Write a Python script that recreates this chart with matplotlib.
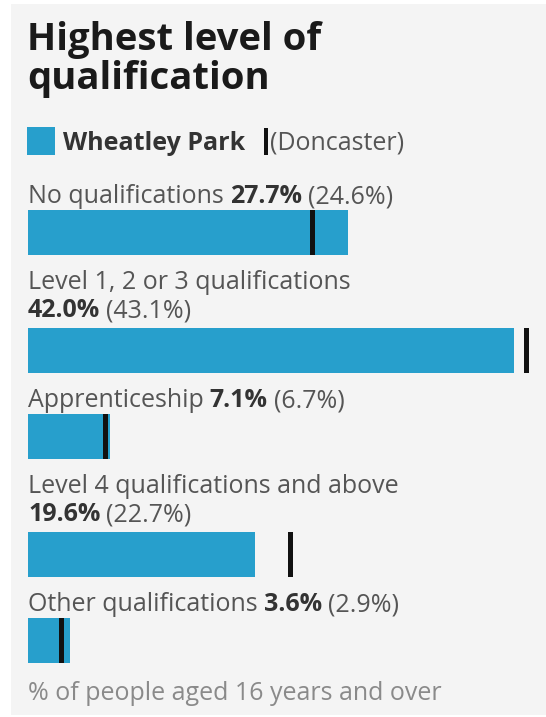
import matplotlib.pyplot as plt
from matplotlib.patches import Rectangle

plt.rcParams['font.family'] = ['Open Sans', 'DejaVu Sans']

# data
categories = ["No qualifications", "Level 1, 2 or 3 qualifications", "Apprenticeship",
              "Level 4 qualifications and above", "Other qualifications"]
area_values = [27.7, 42.0, 7.1, 19.6, 3.6]        # Wheatley Park
compare_values = [24.6, 43.1, 6.7, 22.7, 2.9]     # Doncaster
wrap_label = [False, True, False, True, False]    # value text on its own line

title_lines = ["Highest level of", "qualification"]
area_name = "Wheatley Park"
compare_name = "(Doncaster)"
footer = "% of people aged 16 years and over"

BLUE = "#279fcc"
BG = "#f4f4f4"
W, H = 546, 717
X0 = 28            # px where 0% sits
PX_PER_PCT = 11.57
FS = 18

fig = plt.figure(figsize=(W / 100, H / 100), dpi=100)
fig.patch.set_facecolor("white")
ax = fig.add_axes([0, 0, 1, 1])
ax.set_xlim(-X0 / PX_PER_PCT, (W - X0) / PX_PER_PCT)
ax.set_ylim(H, 0)
ax.axis("off")

# panel background
ax.add_patch(Rectangle((11 / W, 1 - 715 / H), (W - 11) / W, (715 - 4) / H,
                       transform=ax.transAxes, facecolor=BG, edgecolor="none", zorder=-5))

renderer = fig.canvas.get_renderer()


def px_to_data_x(px):
    return (px - X0) / PX_PER_PCT


def put(px, y, s, **kw):
    # place text at pixel x, return the pixel x of its right edge
    t = ax.text(px_to_data_x(px), y, s, va="baseline", ha="left", **kw)
    bb = t.get_window_extent(renderer)
    return bb.x1


# title
put(27, 50, title_lines[0], fontsize=27.5, fontweight="bold", color="#1a1a1a")
put(27, 89, title_lines[1], fontsize=27.5, fontweight="bold", color="#1a1a1a")

# legend
ax.add_patch(Rectangle((px_to_data_x(27), 127), 28 / PX_PER_PCT, 28, facecolor=BLUE, edgecolor="none"))
xe = put(63, 150, area_name, fontsize=FS, fontweight="bold", color="#333333")
ax.add_patch(Rectangle((px_to_data_x(xe + 19), 128), 3.5 / PX_PER_PCT, 27, facecolor="#111111", edgecolor="none"))
put(xe + 25, 150, compare_name, fontsize=FS, color="#555555")

LINE = 28
BAR_H = 45
GAP = 6
y = 203
for cat, v, c, wrap in zip(categories, area_values, compare_values, wrap_label):
    if wrap:
        put(X0, y, cat, fontsize=FS, color="#555555")
        y += LINE
        xe = put(X0, y, f"{v:.1f}%", fontsize=FS, fontweight="bold", color="#333333")
        top = y + 11
    else:
        xe = put(X0, y, cat, fontsize=FS, color="#555555")
        xe = put(xe + GAP, y, f"{v:.1f}%", fontsize=FS, fontweight="bold", color="#333333")
        top = y + 7
    put(xe + GAP, y, f"({c:.1f}%)", fontsize=FS, color="#555555")
    ax.barh(top + BAR_H / 2, v, height=BAR_H, left=0, color=BLUE, edgecolor="none")
    ax.barh(top + BAR_H / 2, 4.5 / PX_PER_PCT, height=BAR_H, left=c - 2.25 / PX_PER_PCT,
            color="#111111", edgecolor="none")
    y = top + BAR_H + 34

put(X0, 700, footer, fontsize=FS, color="#8a8a8a")

fig.savefig("out.png", dpi=100, facecolor=fig.get_facecolor())
